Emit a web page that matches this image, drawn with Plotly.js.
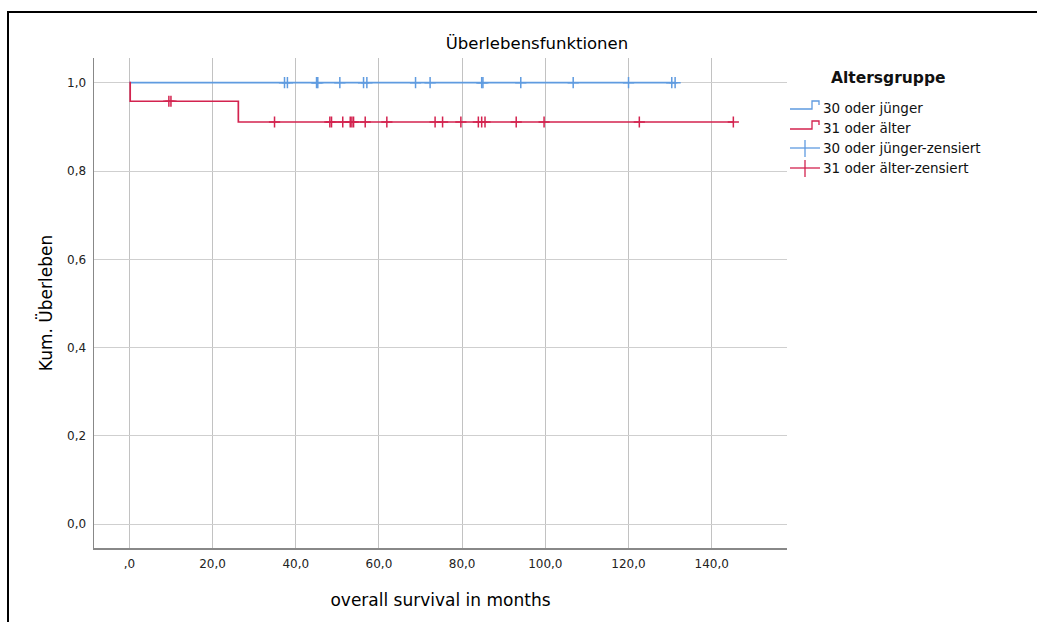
<!DOCTYPE html>
<html>
<head>
<meta charset="utf-8">
<script src="https://cdn.plot.ly/plotly-3.0.1.min.js"></script>
<style>html,body{margin:0;padding:0;background:#fff;overflow:hidden;}</style>
</head>
<body>
<div id="chart" style="width:1037px;height:622px;"></div>
<script>
// ---- data ----
const groupNames = ["30 oder jünger", "31 oder älter"];
const censorNames = ["30 oder jünger-zensiert", "31 oder älter-zensiert"];
const legendTitle = "Altersgruppe";

// Kaplan-Meier step curves (time in months, cumulative survival)
const youngTimes = [0, 131.2];
const youngSurv = [1.0, 1.0];
const oldTimes = [0, 0.2, 26.2, 145.2];
const oldSurv = [1.0, 0.958, 0.911, 0.911];

// censored observations
const youngCensorTimes = [37.3, 38.0, 45.0, 45.3, 50.6, 56.3, 57.1, 68.8, 72.3, 84.7, 85.0, 94.1, 106.7, 120.0, 130.4, 131.2];
const youngCensorSurv = [1, 1, 1, 1, 1, 1, 1, 1, 1, 1, 1, 1, 1, 1, 1, 1];
const oldCensorTimes = [9.5, 10.0, 34.9, 48.2, 48.6, 51.3, 53.1, 53.5, 53.9, 56.7, 61.9, 73.5, 75.3, 79.7, 83.9, 84.7, 85.5, 93.0, 99.7, 122.6, 145.2];
const oldCensorSurv = [0.958, 0.958, 0.911, 0.911, 0.911, 0.911, 0.911, 0.911, 0.911, 0.911, 0.911, 0.911, 0.911, 0.911, 0.911, 0.911, 0.911, 0.911, 0.911, 0.911, 0.911];

const xTickVals = [0, 20, 40, 60, 80, 100, 120, 140];
const xTickText = [",0", "20,0", "40,0", "60,0", "80,0", "100,0", "120,0", "140,0"];
const yTickVals = [0, 0.2, 0.4, 0.6, 0.8, 1.0];
const yTickText = ["0,0", "0,2", "0,4", "0,6", "0,8", "1,0"];

const chartTitle = "Überlebensfunktionen";
const xTitle = "overall survival in months";
const yTitle = "Kum. Überleben";

// ---- styling ----
const FONT = "DejaVu Sans, Liberation Sans, Arial, sans-serif";
const BLUE = "#5f9be0";
const RED = "#d3234f";
const W = 1037, H = 622;
const M = {l: 94, r: 250, t: 58, b: 74};
const PW = W - M.l - M.r, PH = H - M.t - M.b;
const px = v => (v - M.l) / PW;          // pixel x -> paper x
const py = v => (H - M.b - v) / PH;      // pixel y -> paper y

const traces = [
  {x: youngTimes, y: youngSurv, type: "scatter", mode: "lines", line: {color: BLUE, width: 1.7, shape: "hv"}, name: groupNames[0], showlegend: false},
  {x: oldTimes, y: oldSurv, type: "scatter", mode: "lines", line: {color: RED, width: 1.7, shape: "hv"}, name: groupNames[1], showlegend: false},
  {x: youngCensorTimes, y: youngCensorSurv, type: "scatter", mode: "markers", name: censorNames[0], showlegend: false,
   marker: {symbol: "cross-thin", size: 8, color: BLUE, line: {color: BLUE, width: 1.5}}},
  {x: oldCensorTimes, y: oldCensorSurv, type: "scatter", mode: "markers", name: censorNames[1], showlegend: false,
   marker: {symbol: "cross-thin", size: 8, color: RED, line: {color: RED, width: 1.5}}}
];

// outer frame (top and left edges visible) + custom legend
const legendRows = [108, 128, 148, 168];
const shapes = [
  {type: "line", xref: "paper", yref: "paper", x0: px(7), x1: px(1037), y0: py(12), y1: py(12), line: {color: "#000", width: 2}},
  {type: "line", xref: "paper", yref: "paper", x0: px(8), x1: px(8), y0: py(11), y1: py(622), line: {color: "#000", width: 2}}
];
const stepPath = y => `M ${px(790)} ${py(y + 1)} L ${px(812)} ${py(y + 1)} L ${px(812)} ${py(y - 7)} L ${px(819)} ${py(y - 7)} L ${px(819)} ${py(y - 3)}`;
shapes.push({type: "path", xref: "paper", yref: "paper", path: stepPath(legendRows[0]), line: {color: BLUE, width: 1.3}});
shapes.push({type: "path", xref: "paper", yref: "paper", path: stepPath(legendRows[1]), line: {color: RED, width: 1.3}});
[[legendRows[2], BLUE], [legendRows[3], RED]].forEach(([y, c]) => {
  shapes.push({type: "line", xref: "paper", yref: "paper", x0: px(790), x1: px(820), y0: py(y), y1: py(y), line: {color: c, width: 1.3}});
  shapes.push({type: "line", xref: "paper", yref: "paper", x0: px(805), x1: px(805), y0: py(y - 8), y1: py(y + 9), line: {color: c, width: 1.3}});
});

const legendLabels = [groupNames[0], groupNames[1], censorNames[0], censorNames[1]];
const annotations = legendLabels.map((t, i) => ({
  text: t, xref: "paper", yref: "paper", x: px(821), y: py(legendRows[i]), xanchor: "left", yanchor: "middle",
  showarrow: false, font: {family: FONT, size: 13.5, color: "#111"}
}));
annotations.push({text: legendTitle, xref: "paper", yref: "paper", x: px(888), y: py(78), xanchor: "center", yanchor: "middle",
  showarrow: false, font: {family: FONT, size: 15.5, color: "#111", weight: "bold"}});

const layout = {
  width: W, height: H,
  margin: M,
  paper_bgcolor: "#fff", plot_bgcolor: "#fff",
  font: {family: FONT, color: "#111"},
  showlegend: false,
  title: {text: chartTitle, x: 537 / W, xref: "container", xanchor: "center", y: 1 - 43 / H, yref: "container", yanchor: "middle",
          font: {family: FONT, size: 16.5, color: "#000"}},
  xaxis: {
    range: [-8.5, 158.1], tickmode: "array", tickvals: xTickVals, ticktext: xTickText,
    showgrid: true, gridcolor: "#c2c2c2", gridwidth: 1, zeroline: false,
    showline: true, linecolor: "#888", linewidth: 1.5, ticks: "",
    tickfont: {family: FONT, size: 12, color: "#222"}, ticklabelstandoff: 4,
    title: {text: xTitle, font: {family: FONT, size: 17, color: "#000"}, standoff: 24},
    automargin: false, fixedrange: true
  },
  yaxis: {
    range: [-0.054, 1.056], tickmode: "array", tickvals: yTickVals, ticktext: yTickText,
    showgrid: true, gridcolor: "#cfcfcf", gridwidth: 1, zeroline: false,
    showline: true, linecolor: "#888", linewidth: 1.5, ticks: "",
    tickfont: {family: FONT, size: 12, color: "#222"}, ticklabelstandoff: 4,
    title: {text: yTitle, font: {family: FONT, size: 17, color: "#000"}, standoff: 10},
    automargin: false, fixedrange: true
  },
  shapes: shapes,
  annotations: annotations
};

Plotly.newPlot("chart", traces, layout, {staticPlot: true, displayModeBar: false});
</script>
</body>
</html>
